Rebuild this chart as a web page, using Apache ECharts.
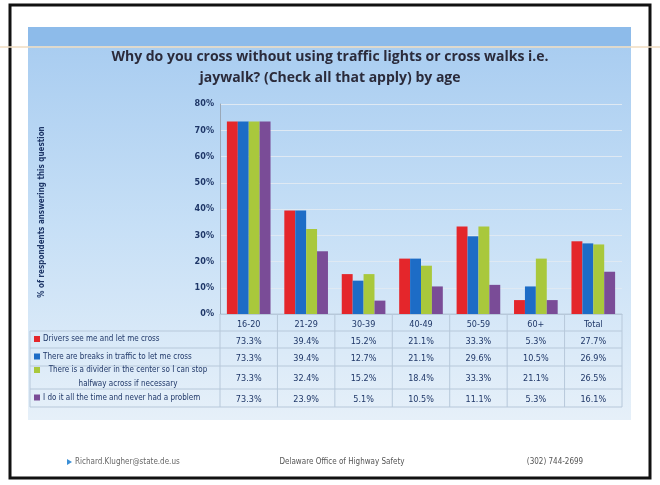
<!DOCTYPE html>
<html>
<head>
<meta charset="utf-8">
<script src="https://cdn.jsdelivr.net/npm/echarts@6/dist/echarts.min.js"></script>
<style>
html, body { margin: 0; padding: 0; background: #fff; }
#chart { width: 660px; height: 485px; }
</style>
</head>
<body>
<div id="chart"></div>
<script>
// 年龄段
var ageGroups = ['16-20', '21-29', '30-39', '40-49', '50-59', '60+', 'Total'];

// 各原因百分比
var seeMe = [73.3, 39.4, 15.2, 21.1, 33.3, 5.3, 27.7];
var breaks = [73.3, 39.4, 12.7, 21.1, 29.6, 10.5, 26.9];
var divider = [73.3, 32.4, 15.2, 18.4, 33.3, 21.1, 26.5];
var allTime = [73.3, 23.9, 5.1, 10.5, 11.1, 5.3, 16.1];

var seriesNames = [
	'Drivers see me and let me cross',
	'There are breaks in traffic to let me cross',
	'There is a divider in the center so I can stop halfway across if necessary',
	'I do it all the time and never had a problem'
];
var colors = ['#e4262b', '#1d6cc6', '#a9c83c', '#7a4c97'];

var navy = '#1f3768';
var condensed = '"DejaVu Sans Condensed", "Liberation Sans", sans-serif';
var gridLeft = 220, gridRight = 622, gridBottomY = 314;

var chart = echarts.init(document.getElementById('chart'));

function pct(v) { return v.toFixed(1) + '%'; }

var graphics = [
	// 扫描边框
	{ type: 'rect', shape: { x: 10, y: 5, width: 640, height: 473 }, style: { fill: '#fff', stroke: '#111', lineWidth: 3 }, z: -10 },
	// 蓝色背景
	{ type: 'rect', shape: { x: 28, y: 27, width: 603, height: 393 },
		style: { fill: new echarts.graphic.LinearGradient(0, 0, 0, 1, [
			{ offset: 0, color: '#a6cbf0' }, { offset: 0.5, color: '#c6dff6' }, { offset: 1, color: '#e6f0f9' }]) }, z: -9 },
	{ type: 'rect', shape: { x: 28, y: 27, width: 603, height: 19 }, style: { fill: '#8dbbea' }, z: -8 },
	{ type: 'line', shape: { x1: 0, y1: 47, x2: 660, y2: 47 }, style: { stroke: '#f0dcc0', lineWidth: 1.5 }, z: -7 },
	// 坐标轴标题
	{ type: 'text', x: 42, y: 212, rotation: Math.PI / 2,
		style: { text: '% of respondents answering this question', fill: navy, font: 'bold 8px ' + condensed, align: 'center', verticalAlign: 'middle' } },
	// 页脚
	{ type: 'polygon', shape: { points: [[67, 459], [72, 462], [67, 465]] }, style: { fill: '#3b8fd6' } },
	{ type: 'text', x: 75, y: 462, style: { text: 'Richard.Klugher@state.de.us', fill: '#666', font: '8px ' + condensed, verticalAlign: 'middle' } },
	{ type: 'text', x: 342, y: 462, style: { text: 'Delaware Office of Highway Safety', fill: '#555', font: '8px ' + condensed, align: 'center', verticalAlign: 'middle' } },
	{ type: 'text', x: 555, y: 462, style: { text: '(302) 744-2699', fill: '#555', font: '8px ' + condensed, align: 'center', verticalAlign: 'middle' } }
];

// 数据表格线
var rowLines = [314, 331, 348, 366, 389, 407];
rowLines.forEach(function(y, i) {
	graphics.push({ type: 'line', shape: { x1: i === 0 ? gridLeft : 30, y1: y, x2: gridRight, y2: y }, style: { stroke: '#b7c8da', lineWidth: 1 }, z: -5 });
});
for (var k = 0; k <= ageGroups.length; k++) {
	var x = gridLeft + (gridRight - gridLeft) * k / ageGroups.length;
	graphics.push({ type: 'line', shape: { x1: x, y1: 314, x2: x, y2: 407 }, style: { stroke: '#b7c8da', lineWidth: 1 }, z: -5 });
}
graphics.push({ type: 'line', shape: { x1: 30, y1: 331, x2: 30, y2: 407 }, style: { stroke: '#b7c8da', lineWidth: 1 }, z: -5 });

// 图例行
var legendY = [339, 356.5, 377, 397.5];
seriesNames.forEach(function(name, i) {
	var text = i === 2 ? 'There is a divider in the center so I can stop\nhalfway across if necessary' : name;
	graphics.push({ type: 'rect', shape: { x: 34, y: (i === 2 ? 370 : legendY[i]) - 3, width: 6, height: 6 }, style: { fill: colors[i] } });
	graphics.push({ type: 'text', x: i === 2 ? 128 : 43, y: legendY[i],
		style: { text: text, fill: navy, font: '8px ' + condensed, lineHeight: 14,
			align: i === 2 ? 'center' : 'left', verticalAlign: 'middle' } });
});

var allData = [seeMe, breaks, divider, allTime];
var cellFont = { fontFamily: condensed, fontSize: 9, color: navy };

var option = {
	animation: false,
	title: {
		text: 'Why do you cross without using traffic lights or cross walks i.e.\njaywalk? (Check all that apply) by age',
		left: 'center',
		top: 42,
		textStyle: { fontFamily: '"Open Sans", sans-serif', fontSize: 14, fontWeight: 'bold', color: '#2b2b3b', lineHeight: 21 }
	},
	graphic: graphics,
	grid: { left: gridLeft, right: 660 - gridRight, top: 104, bottom: 485 - gridBottomY },
	xAxis: {
		type: 'category',
		data: ageGroups,
		axisLine: { lineStyle: { color: '#b7c8da' } },
		axisTick: { show: false },
		axisLabel: {
			margin: 2,
			interval: 0,
			formatter: function(value, idx) {
				return '{c|' + value + '}\n{a|' + pct(seeMe[idx]) + '}\n{a|' + pct(breaks[idx]) +
					'}\n{b|' + pct(divider[idx]) + '}\n{d|' + pct(allTime[idx]) + '}';
			},
			rich: {
				c: Object.assign({ lineHeight: 17 }, cellFont),
				a: Object.assign({ lineHeight: 17 }, cellFont),
				b: Object.assign({ lineHeight: 24 }, cellFont),
				d: Object.assign({ lineHeight: 18 }, cellFont)
			}
		}
	},
	yAxis: {
		type: 'value',
		min: 0,
		max: 80,
		interval: 10,
		axisLine: { show: true, lineStyle: { color: '#9aa8b8' } },
		axisLabel: { formatter: '{value}%', color: navy, fontWeight: 'bold', fontSize: 9, fontFamily: condensed, margin: 6 },
		splitLine: { lineStyle: { color: '#dfe9f3' } }
	},
	series: seriesNames.map(function(name, i) {
		return {
			name: name,
			type: 'bar',
			data: allData[i],
			barGap: '0%',
			barCategoryGap: '24%',
			itemStyle: { color: colors[i] }
		};
	})
};

chart.setOption(option);
</script>
</body>
</html>
